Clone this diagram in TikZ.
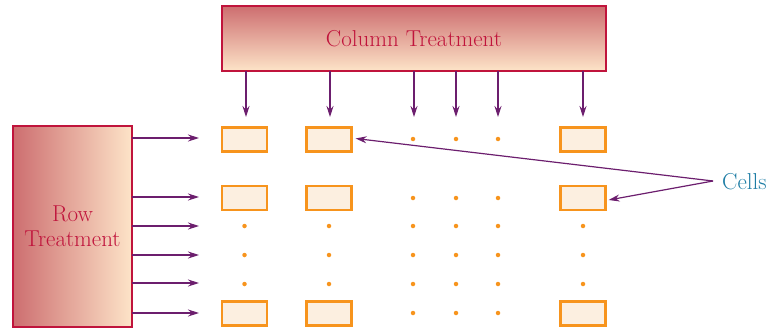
\documentclass[tikz,border=0pt]{standalone}
\usepackage{fontspec}
\setmainfont{Latin Modern Roman}
\usetikzlibrary{arrows.meta}
\definecolor{arrowc}{RGB}{108,30,110}
\definecolor{crim}{RGB}{192,20,60}
\definecolor{dark}{RGB}{205,110,112}
\definecolor{light}{RGB}{253,228,200}
\definecolor{cellfill}{RGB}{252,239,224}
\definecolor{cellline}{RGB}{247,148,29}
\definecolor{blue}{RGB}{30,125,165}
\tikzset{
  treat/.style={draw=crim, line width=1.2pt, text=crim, align=center, inner sep=0pt},
  cell/.style={draw=cellline, fill=cellfill, line width=2.2pt, minimum width=45pt, minimum height=24pt, inner sep=0pt},
  dotc/.style={circle, fill=cellline, minimum size=4.5pt, inner sep=0pt},
  arr/.style={draw=arrowc, line width=1.2pt, -{Stealth[length=11pt,width=7pt]}},
  lbl/.style={text=blue, inner sep=0pt}
}
\begin{document}
\begin{tikzpicture}[x=1pt,y=-1pt, font=\fontsize{23}{25}\selectfont]
\useasboundingbox (0,0) rectangle (776,332);
% treatment boxes
\node[treat, top color=dark, bottom color=light, minimum width=384pt, minimum height=65pt] (col) at (414,38.5) {Column Treatment};
\node[treat, left color=dark, right color=light, minimum width=119pt, minimum height=201pt] (row) at (72.5,226.5) {Row\\Treatment};
% cells
\foreach \c/\x in {1/244.5,2/329,6/583}{
  \foreach \r/\y in {1/139.5,2/198,6/313.5}{
    \node[cell] (c\c\r) at (\x,\y) {};
  }
}
% dots in cell columns
\foreach \c/\x in {1/244.5,2/329,6/583}{
  \foreach \r/\y in {3/226,4/255,5/284}{
    \node[dotc] (d\c\r) at (\x,\y) {};
  }
}
% dot columns
\foreach \c/\x in {3/413,4/456,5/498}{
  \foreach \r/\y in {1/139,2/198,3/226,4/255,5/284,6/313}{
    \node[dotc] (d\c\r) at (\x,\y) {};
  }
}
% column arrows
\foreach \x in {246,330,414,456,498,583}{
  \coordinate (ct\x) at (\x,71);
  \coordinate (cb\x) at (\x,117);
  \draw[arr] (ct\x) -- (cb\x);
}
% row arrows
\foreach \y in {138,197,226,255,283,313}{
  \coordinate (rl\y) at (132,\y);
  \coordinate (rr\y) at (199,\y);
  \draw[arr] (rl\y) -- (rr\y);
}
% cells label
\node[lbl, anchor=west] (cells) at (722,182) {Cells};
\coordinate (cp) at (713,181);
\draw[arr] (cp) -- ([xshift=3pt,yshift=1pt]c21.east);
\draw[arr] (cp) -- ([xshift=2pt,yshift=-2pt]c62.east);
\end{tikzpicture}
\end{document}
